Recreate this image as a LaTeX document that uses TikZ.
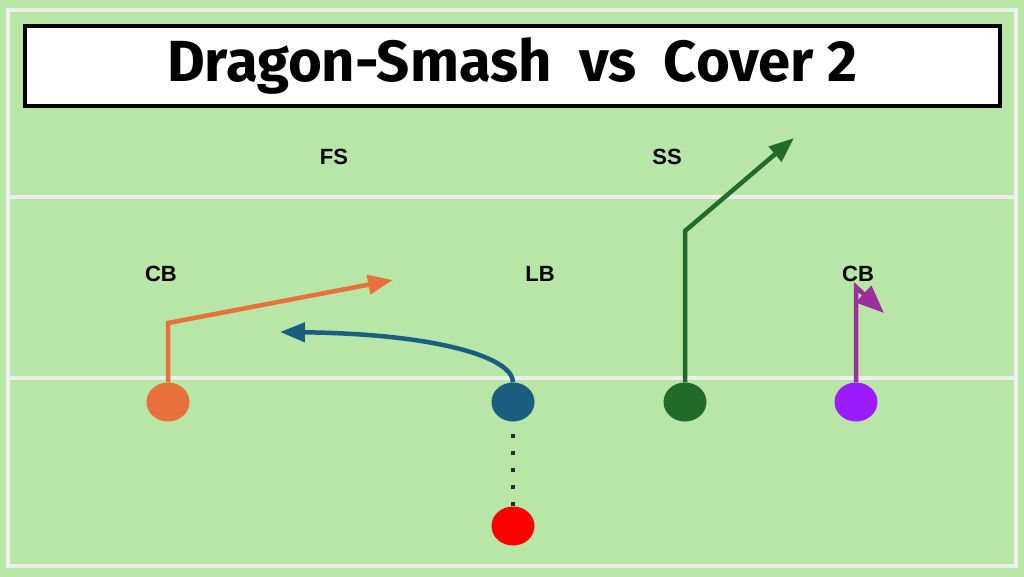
\documentclass[tikz,border=0pt]{standalone}
\usepackage{fontspec}
\setmainfont{Liberation Sans}
\newfontfamily\titlefont{Fira Sans}
\usetikzlibrary{arrows.meta,shapes.geometric}
\definecolor{turf}{HTML}{B8E6A6}
\definecolor{chalk}{HTML}{EEEEEE}
\definecolor{cbleft}{HTML}{E8703A}
\definecolor{backer}{HTML}{1B5E80}
\definecolor{safety}{HTML}{226B2A}
\definecolor{cbright}{HTML}{9B1CFF}
\definecolor{flagroute}{HTML}{9B2F9B}
\definecolor{dotline}{HTML}{1A2E3A}
\begin{document}
\begin{tikzpicture}[x=1pt,y=-1pt,
				player/.style={ellipse,minimum width=43pt,minimum height=39pt,inner sep=0pt},
				defender/.style={font=\bfseries\fontsize{22}{22}\selectfont},
				route/.style={line width=4.5pt,-{Triangle[length=25pt,width=19pt]}},
				yardline/.style={chalk,line width=4pt}]
% field
\fill[turf] (0,0) rectangle (1024,577);
\useasboundingbox (0,0) rectangle (1024,577);
\draw[yardline] (7.5,10) rectangle (1016,566);
\draw[yardline] (7.5,197) -- (1016,197);
\draw[yardline] (7.5,378) -- (1016,378);
% title
\node[draw,line width=3.5pt,fill=white,minimum width=975pt,minimum height=80pt] (title) at (512.5,66)
	{\titlefont\bfseries\fontsize{58}{60}\selectfont Dragon-Smash\ \ vs\ \ Cover 2};
% defense
\node[defender] (fs) at (334,157) {FS};
\node[defender] (ss) at (667,157) {SS};
\node[defender] (cbl) at (161,274) {CB};
\node[defender] (lb) at (540,274) {LB};
\node[defender] (cbr) at (858,274) {CB};
% offense
\node[player,fill=cbleft] (x) at (168,402) {};
\node[player,fill=backer] (rb) at (513,402) {};
\node[player,fill=safety] (te) at (685,402) {};
\node[player,fill=cbright] (z) at (856,402) {};
\node[player,fill=red] (qb) at (513,526) {};
% routes
\coordinate (xbreak) at (168,323);
\coordinate (xend) at (393,280);
\coordinate (rbend) at (280,332);
\coordinate (tebreak) at (685,231);
\coordinate (teend) at (794,138);
\coordinate (zbreak) at (856,287);
\coordinate (zend) at (884,313);
\draw[route,cbleft] (x.north) -- (xbreak) -- (xend);
\draw[route,backer] (rb.north) .. controls (513,358) and (440,334) .. (rbend);
\draw[route,safety] (te.north) -- (tebreak) -- (teend);
\draw[line width=4.5pt,flagroute,-{Triangle[length=28pt,width=22pt]}] (z.north) -- (zbreak) -- (zend);
\draw[dotline,line width=4.5pt,dash pattern=on 4.5pt off 12.5pt] (rb.south) ++(0,12) -- (qb.north);
\end{tikzpicture}
\end{document}
